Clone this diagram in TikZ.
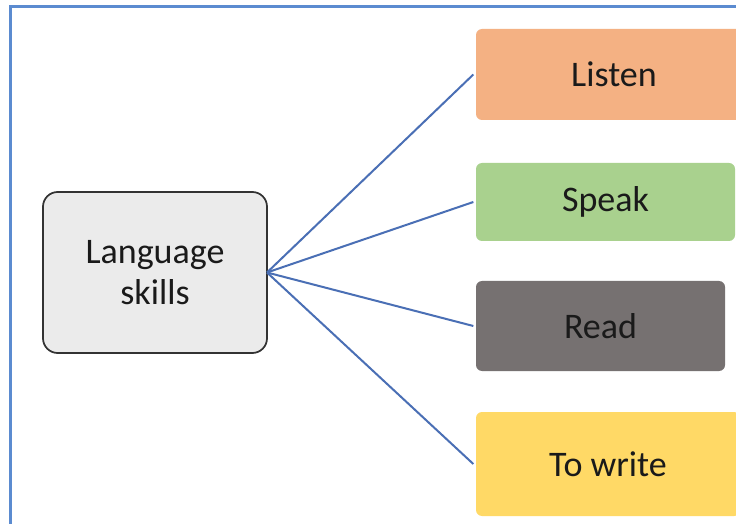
\documentclass[tikz,border=0pt]{standalone}
\usepackage{fontspec}
\setmainfont{Carlito}
\definecolor{framecol}{HTML}{5B8BD0}
\definecolor{linkcol}{HTML}{4A6FB5}
\definecolor{hubfill}{HTML}{EBEBEB}
\definecolor{hubdraw}{HTML}{333333}
\definecolor{listencol}{HTML}{F4B183}
\definecolor{speakcol}{HTML}{A9D18E}
\definecolor{readcol}{HTML}{767171}
\definecolor{writecol}{HTML}{FFD966}
\definecolor{txtcol}{HTML}{1A1A1A}
\begin{document}
\begin{tikzpicture}[x=0.75pt,y=-0.75pt,
  label text/.style={text=txtcol, font=\fontsize{27}{31}\selectfont, align=center,
    inner sep=0pt, outer sep=0pt},
  hub/.style={label text, rectangle, rounded corners=11pt, fill=hubfill, draw=hubdraw,
    line width=1.3pt},
  skillbox/.style={label text, rectangle, rounded corners=4.5pt},
  link/.style={draw=linkcol, line width=1.5pt},
  frame/.style={draw=framecol, line width=1.6pt}]
\useasboundingbox (0,0) rectangle (736,524);
\clip (0,0) rectangle (736,524);
\fill[white] (0,0) rectangle (736,524);
\draw[frame] (10.5,6.5) rectangle (780,580);

% central topic
\node[hub, minimum width=168pt, minimum height=120.75pt] (lang) at (155,272.5) {Language\\skills};

% the four skills
\node[skillbox, fill=listencol, minimum width=207pt, minimum height=68.25pt] (listen) at (614,74.5) {Listen};
\node[skillbox, fill=speakcol, minimum width=194.25pt, minimum height=58.5pt] (speak) at (605.5,202) {Speak};
\node[skillbox, fill=readcol, minimum width=186.75pt, minimum height=67.5pt] (read) at (600.5,326) {Read};
\node[skillbox, fill=writecol, minimum width=198pt, minimum height=78pt] (write) at (608,464) {To write};

% connectors
\draw[link] (lang.east) -- ([xshift=-2pt]listen.west);
\draw[link] (lang.east) -- ([xshift=-2pt]speak.west);
\draw[link] (lang.east) -- ([xshift=-2pt]read.west);
\draw[link] (lang.east) -- ([xshift=-2pt]write.west);
\end{tikzpicture}
\end{document}
